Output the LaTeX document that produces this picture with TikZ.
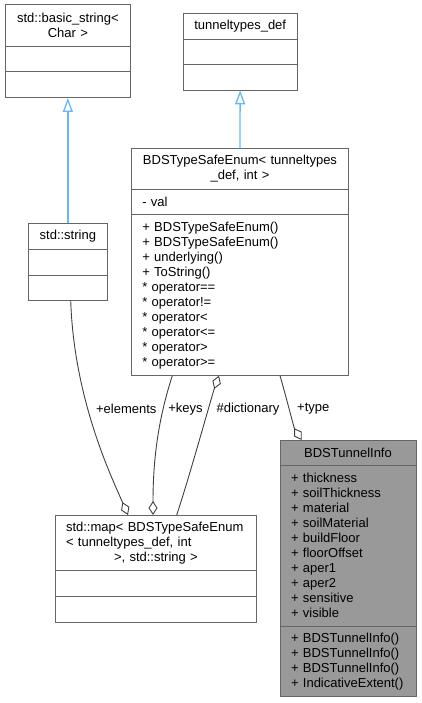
\documentclass[tikz,border=0pt]{standalone}
\usepackage{fontspec}
\setmainfont{Liberation Sans}
\usepackage{tikz}
\usetikzlibrary{arrows.meta,calc}
\definecolor{boxgray}{HTML}{666666}
\definecolor{edgegray}{HTML}{404040}
\definecolor{inhblue}{HTML}{63B8FF}
\definecolor{fillgray}{HTML}{999999}

\begin{document}
\begin{tikzpicture}[x=1pt,y=-1pt]
\tikzset{
	class part/.style = {draw=boxgray, line width=1pt, anchor=north west, outer sep=0pt,
		inner xsep=11pt, inner ysep=0pt, font=\fontsize{13}{15}\selectfont},
	title part/.style = {class part, align=center},
	member part/.style = {class part, align=left},
	inherit edge/.style = {draw=inhblue, line width=1.3pt, -{Triangle[open, length=14pt, width=10pt]}},
	aggr edge/.style = {draw=edgegray, line width=0.9pt, -{Diamond[open, length=14pt, width=9pt]}},
	edge label/.style = {font=\fontsize{13}{15}\selectfont, inner sep=0pt}
}
\useasboundingbox (0,0) rectangle (421,703);
% std::basic_string< Char >
\node(bstr-1)[title part, text width=103.7pt, minimum height=41.7pt] at (5,5) {std::basic\_string<\\Char >};
\node(bstr-2)[member part, text width=103.7pt, minimum height=25.3pt] at (bstr-1.south west) {};
\node(bstr-3)[member part, text width=103.7pt, minimum height=26pt] at (bstr-2.south west) {};
% tunneltypes_def
\node(tt-1)[title part, text width=91.7pt, minimum height=26pt] at (183.3,13.3) {tunneltypes\_def};
\node(tt-2)[member part, text width=91.7pt, minimum height=25.4pt] at (tt-1.south west) {};
\node(tt-3)[member part, text width=91.7pt, minimum height=25.6pt] at (tt-2.south west) {};
% BDSTypeSafeEnum
\node(enum-1)[title part, text width=195.4pt, minimum height=40.6pt] at (131.3,148.7) {BDSTypeSafeEnum< tunneltypes\\\_def, int >};
\node(enum-2)[member part, text width=195.4pt, minimum height=25.7pt] at (enum-1.south west) {- val};
\node(enum-3)[member part, text width=195.4pt, minimum height=160.7pt] at (enum-2.south west)
	{+ BDSTypeSafeEnum()\\+ BDSTypeSafeEnum()\\+ underlying()\\+ ToString()\\{*} operator==\\
	 {*} operator!=\\{*} operator<\\{*} operator<=\\{*} operator>\\{*} operator>=};
% std::string
\node(str-1)[title part, text width=57.7pt, minimum height=25.7pt] at (28,223.3) {std::string};
\node(str-2)[member part, text width=57.7pt, minimum height=26pt] at (str-1.south west) {};
\node(str-3)[member part, text width=57.7pt, minimum height=25.7pt] at (str-2.south west) {};
% std::map
\node(map-1)[member part, text width=179.7pt, minimum height=55.7pt] at (55,515)
	{std::map< BDSTypeSafeEnum\\< tunneltypes\_def, int\\\hspace*{48pt}>, std::string >};
\node(map-2)[member part, text width=179.7pt, minimum height=25.3pt] at (map-1.south west) {};
\node(map-3)[member part, text width=179.7pt, minimum height=26pt] at (map-2.south west) {};
% BDSTunnelInfo
\node(info-1)[title part, fill=fillgray, text width=114pt, minimum height=25.3pt] at (280,440) {BDSTunnelInfo};
\node(info-2)[member part, fill=fillgray, text width=114pt, minimum height=160.7pt] at (info-1.south west)
	{+ thickness\\+ soilThickness\\+ material\\+ soilMaterial\\+ buildFloor\\+ floorOffset\\
	 + aper1\\+ aper2\\+ sensitive\\+ visible};
\node(info-3)[member part, fill=fillgray, text width=114pt, minimum height=70.7pt] at (info-2.south west)
	{+ BDSTunnelInfo()\\+ BDSTunnelInfo()\\+ BDSTunnelInfo()\\+ IndicativeExtent()};
% inheritance
\draw[inherit edge] (str-1.north) -- (bstr-3.south);
\draw[inherit edge] (enum-1.north) -- (tt-3.south);
% aggregation
\draw[aggr edge] ($(str-3.south west)+(42.7,0)$) .. controls (74,400) and (112,478) .. ($(map-1.north west)+(73,0)$);
\draw[aggr edge] ($(enum-3.south west)+(41,0)$) .. controls (158,420) and (153,460) .. ($(map-1.north west)+(98,0)$);
\draw[aggr edge] ($(map-1.north west)+(121.7,0)$) .. controls (190,475) and (212,395) .. ($(enum-3.south west)+(87.7,0)$);
\draw[aggr edge] ($(enum-3.south west)+(148.7,0)$) .. controls (287,400) and (294,428) .. ($(info-1.north west)+(21.7,0)$);
\node(l-elements)[edge label] at (126.3,409) {+elements};
\node(l-keys)[edge label] at (185.5,409) {+keys};
\node(l-dict)[edge label] at (248,409) {\#dictionary};
\node(l-type)[edge label] at (313.3,409) {+type};
\end{tikzpicture}
\end{document}
